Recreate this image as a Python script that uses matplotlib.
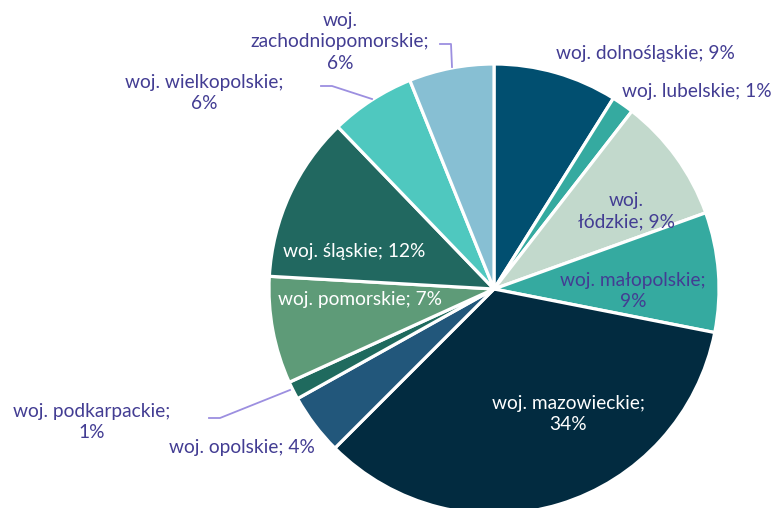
import matplotlib
matplotlib.use("Agg")
import matplotlib.pyplot as plt

# Data (clockwise from 12 o'clock)
regions = ["woj. dolnośląskie", "woj. lubelskie", "woj. łódzkie", "woj. małopolskie",
           "woj. mazowieckie", "woj. opolskie", "woj. podkarpackie", "woj. pomorskie",
           "woj. śląskie", "woj. wielkopolskie", "woj. zachodniopomorskie"]
shares = [8.9, 1.6, 9.0, 8.6, 34.4, 4.4, 1.3, 7.7, 11.9, 6.1, 6.1]
pct_labels = ["9%", "1%", "9%", "9%", "34%", "4%", "1%", "7%", "12%", "6%", "6%"]

colors = ["#014F70", "#35AAA0", "#C2D9CC", "#35AAA0", "#022B40", "#22577B",
          "#1F6A5E", "#5E9B78", "#216860", "#4FC8BF", "#87BFD3"]

W, H = 781, 508
fig = plt.figure(figsize=(W / 100, H / 100), dpi=100)
ax = fig.add_axes([0, 0, 1, 1])
ax.pie(shares, colors=colors, startangle=90, counterclock=False,
       center=(494, H - 289), radius=225,
       wedgeprops=dict(edgecolor="white", linewidth=2.3))
ax.set_xlim(0, W)
ax.set_ylim(0, H)
ax.set_aspect("equal")
ax.axis("off")

purple = "#433D93"
lead = "#9C8FE0"
fs = 13.8
font = ["Lato", "DejaVu Sans"]
ls = 1.3


def lbl(i, x, y, color, split_after_woj=False, two_lines=True):
    name = regions[i]
    if split_after_woj:
        s = "woj.\n" + name[5:] + "; " + pct_labels[i]
    elif two_lines:
        s = name + ";\n" + pct_labels[i]
    else:
        s = name + "; " + pct_labels[i]
    ax.text(x, H - y, s, ha="center", va="center", multialignment="center",
            color=color, fontsize=fs, family=font, linespacing=ls)


lbl(0, 645, 53, purple, two_lines=False)
lbl(1, 697, 91, purple, two_lines=False)
lbl(2, 626, 211, purple, split_after_woj=True)
lbl(3, 633, 291, purple)
lbl(4, 568, 414, "white")
lbl(5, 242, 448, purple, two_lines=False)
lbl(6, 92, 422, purple)
lbl(7, 360, 300, "white", two_lines=False)
lbl(8, 354, 252, "white", two_lines=False)
lbl(9, 204, 93, purple)
# zachodniopomorskie: three lines
ax.text(340, H - 42, "woj.\nzachodniopomorskie;\n" + pct_labels[10], ha="center", va="center",
        multialignment="center", color=purple, fontsize=fs, family=font, linespacing=ls)

# leader lines
ax.plot([209, 220, 290], [H - 418, H - 418, H - 390], color=lead, lw=1.3)
ax.plot([321, 332, 372], [H - 86, H - 86, H - 99], color=lead, lw=1.3)
ax.plot([440, 451, 452], [H - 44, H - 44, H - 67], color=lead, lw=1.3)

fig.savefig("out.png", dpi=100)
